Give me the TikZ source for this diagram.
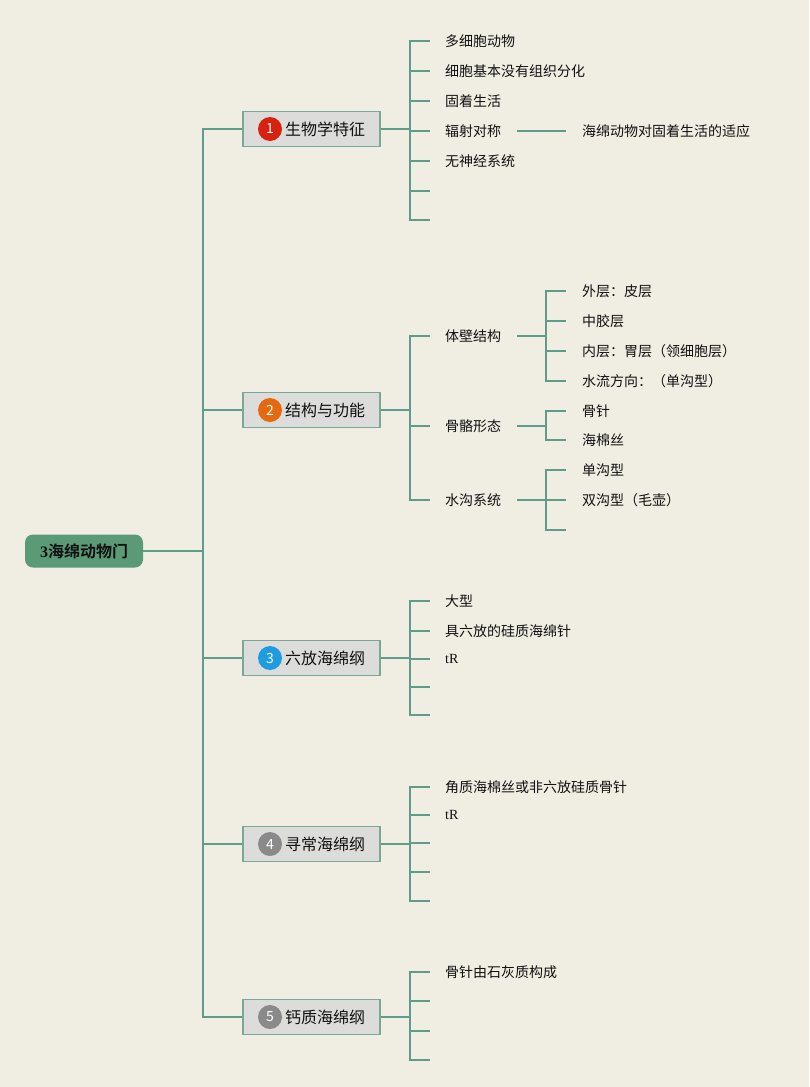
\documentclass[tikz,border=0pt]{standalone}
\usepackage{fontspec}
\newfontfamily\cjk{Noto Sans CJK SC}[BoldFont={Noto Sans CJK SC Bold}]
\newfontfamily\serifl{Liberation Serif}
\definecolor{bg}{HTML}{F0EDE3}
\definecolor{ln}{HTML}{5F9C8A}
\definecolor{rootfill}{HTML}{5A9A77}
\definecolor{boxfill}{HTML}{DCDCDA}
\definecolor{boxline}{HTML}{7AA898}
\definecolor{bred}{HTML}{D6220E}
\definecolor{borange}{HTML}{E4690F}
\definecolor{bblue}{HTML}{1F9BE0}
\definecolor{bgray}{HTML}{8A8A8A}
\definecolor{txt}{HTML}{111111}
\begin{document}
\begin{tikzpicture}[x=1pt,y=-1pt,
  conn/.style={draw=ln,line width=2pt},
  rootbox/.style={fill=rootfill,rounded corners=8pt,minimum width=118pt,minimum height=33pt,inner sep=0pt,text=txt},
  catbox/.style={fill=boxfill,draw=boxline,line width=1.4pt,minimum width=137pt,minimum height=35pt,inner sep=0pt},
  badge/.style={circle,minimum size=24pt,inner sep=0pt,text=white,font=\cjk\fontsize{14}{14}\selectfont},
  cattext/.style={anchor=west,inner sep=0pt,text=txt,font=\cjk\fontsize{16}{16}\selectfont},
  leaf/.style={anchor=west,inner sep=0pt,text=txt,font=\cjk\fontsize{14}{14}\selectfont},
  latin/.style={anchor=west,inner sep=0pt,text=txt,font=\serifl\fontsize{14}{14}\selectfont}]
\fill[bg] (0,0) rectangle (809,1087);
\useasboundingbox (0,0) rectangle (809,1087);

% root
\node[rootbox] (root) at (84,551) {\fontsize{16}{16}\selectfont{\serifl\bfseries 3}{\cjk\bfseries 海绵动物门}};
\coordinate (trunk) at (203,551);
\draw[conn] (root.east) -- (trunk);

% categories
\node[catbox] (c1) at (311.5,129) {};
\node[catbox] (c2) at (311.5,410) {};
\node[catbox] (c3) at (311.5,658) {};
\node[catbox] (c4) at (311.5,844) {};
\node[catbox] (c5) at (311.5,1017) {};
\node[badge,fill=bred] (n1) at (270,129) {1};
\node[badge,fill=borange] (n2) at (270,410) {2};
\node[badge,fill=bblue] (n3) at (270,658) {3};
\node[badge,fill=bgray] (n4) at (270,844) {4};
\node[badge,fill=bgray] (n5) at (270,1017) {5};
\node[cattext] (t1) at (285,129) {生物学特征};
\node[cattext] (t2) at (285,410) {结构与功能};
\node[cattext] (t3) at (285,658) {六放海绵纲};
\node[cattext] (t4) at (285,844) {寻常海绵纲};
\node[cattext] (t5) at (285,1017) {钙质海绵纲};
\foreach \c in {c1,c2,c3,c4,c5} \draw[conn] (trunk) |- (\c.west);

% category 1
\coordinate (j1) at (410,129);
\draw[conn] (c1.east) -- (j1);
\node[leaf] (a1) at (445,41) {多细胞动物};
\node[leaf] (a2) at (445,71) {细胞基本没有组织分化};
\node[leaf] (a3) at (445,101) {固着生活};
\node[leaf] (a4) at (445,131) {辐射对称};
\node[leaf] (a5) at (445,161) {无神经系统};
\coordinate (a6) at (430,191);
\coordinate (a7) at (430,220);
\foreach \n in {a1,a2,a3,a4,a5} \draw[conn] (j1) |- ([xshift=-15pt]\n.west);
\foreach \n in {a6,a7} \draw[conn] (j1) |- (\n);
\node[leaf] (d1) at (582,131) {海绵动物对固着生活的适应};
\draw[conn] ([xshift=16pt]a4.east) -- ([xshift=-16pt]d1.west);

% category 2
\coordinate (j2) at (410,410);
\draw[conn] (c2.east) -- (j2);
\node[leaf] (b1) at (445,336) {体壁结构};
\node[leaf] (b2) at (445,426) {骨骼形态};
\node[leaf] (b3) at (445,500) {水沟系统};
\foreach \n in {b1,b2,b3} \draw[conn] (j2) |- ([xshift=-15pt]\n.west);
\coordinate (k1) at (546,336);
\coordinate (k2) at (546,426);
\coordinate (k3) at (546,500);
\draw[conn] ([xshift=16pt]b1.east) -- (k1);
\draw[conn] ([xshift=16pt]b2.east) -- (k2);
\draw[conn] ([xshift=16pt]b3.east) -- (k3);
\node[leaf] (e1) at (582,291) {外层：皮层};
\node[leaf] (e2) at (582,321) {中胶层};
\node[leaf] (e3) at (582,351) {内层：胃层（领细胞层）};
\node[leaf] (e4) at (582,381) {水流方向：（单沟型）};
\foreach \n in {e1,e2,e3,e4} \draw[conn] (k1) |- ([xshift=-16pt]\n.west);
\node[leaf] (f1) at (582,411) {骨针};
\node[leaf] (f2) at (582,440) {海棉丝};
\foreach \n in {f1,f2} \draw[conn] (k2) |- ([xshift=-16pt]\n.west);
\node[leaf] (g1) at (582,470) {单沟型};
\node[leaf] (g2) at (582,500) {双沟型（毛壶）};
\coordinate (g3) at (566,530);
\foreach \n in {g1,g2} \draw[conn] (k3) |- ([xshift=-16pt]\n.west);
\draw[conn] (k3) |- (g3);

% category 3
\coordinate (j3) at (410,658);
\draw[conn] (c3.east) -- (j3);
\node[leaf] (h1) at (445,601) {大型};
\node[leaf] (h2) at (445,631) {具六放的硅质海绵针};
\node[latin] (h3) at (445,659) {tR};
\coordinate (h4) at (430,687);
\coordinate (h5) at (430,715);
\foreach \n in {h1,h2,h3} \draw[conn] (j3) |- ([xshift=-15pt]\n.west);
\foreach \n in {h4,h5} \draw[conn] (j3) |- (\n);

% category 4
\coordinate (j4) at (410,844);
\draw[conn] (c4.east) -- (j4);
\node[leaf] (m1) at (445,787) {角质海棉丝或非六放硅质骨针};
\node[latin] (m2) at (445,815) {tR};
\coordinate (m3) at (430,843);
\coordinate (m4) at (430,872);
\coordinate (m5) at (430,901);
\foreach \n in {m1,m2} \draw[conn] (j4) |- ([xshift=-15pt]\n.west);
\foreach \n in {m3,m4,m5} \draw[conn] (j4) |- (\n);

% category 5
\coordinate (j5) at (410,1017);
\draw[conn] (c5.east) -- (j5);
\node[leaf] (p1) at (445,972) {骨针由石灰质构成};
\coordinate (p2) at (430,1001);
\coordinate (p3) at (430,1031);
\coordinate (p4) at (430,1060);
\draw[conn] (j5) |- ([xshift=-15pt]p1.west);
\foreach \n in {p2,p3,p4} \draw[conn] (j5) |- (\n);
\end{tikzpicture}
\end{document}
